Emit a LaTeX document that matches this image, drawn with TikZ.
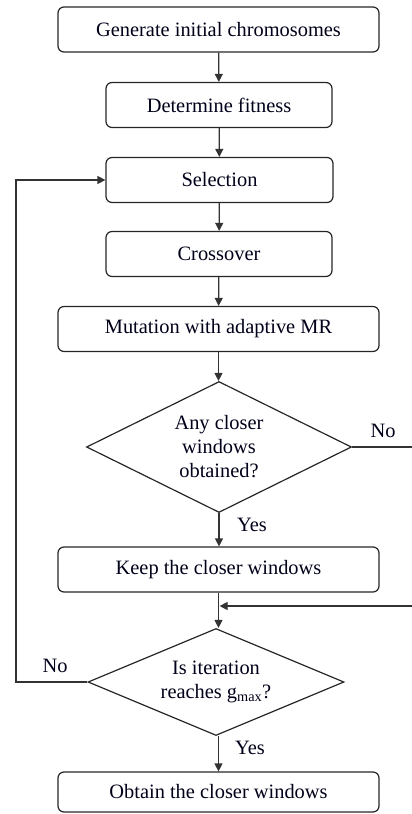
\documentclass[tikz,border=0pt]{standalone}
\usepackage{fontspec}
\setmainfont{Liberation Serif}
\usetikzlibrary{shapes.geometric,arrows.meta}
\begin{document}
\begin{tikzpicture}[x=1pt,y=-1pt,
  every node/.style={font=\fontsize{20.4}{24}\selectfont, text=black!90!blue},
  procbox/.style={draw=black!85, line width=1.2pt, rounded corners=6pt, minimum height=45pt, inner sep=0pt, anchor=center},
  decision/.style={draw=black!85, line width=1.2pt, diamond, inner sep=0pt, align=center},
  flow/.style={draw=black!80, line width=1.2pt, -{Triangle[length=8pt,width=8pt]}},
  lbl/.style={inner sep=0pt}
]
\useasboundingbox (0,0) rectangle (412,814);
\node[procbox, minimum width=321pt] (b1) at (218.5,29.5) {Generate initial chromosomes};
\node[procbox, minimum width=226pt] (b2) at (219,105) {Determine fitness};
\node[procbox, minimum width=227pt] (b3) at (219.5,180) {Selection};
\node[procbox, minimum width=226pt] (b4) at (219,254) {Crossover};
\node[procbox, minimum width=321pt] (b5) at (218.5,329) {Mutation with adaptive MR};
\node[decision, aspect=2, minimum width=265pt, minimum height=131pt] (d1) at (219,447) {Any closer\\windows\\obtained?};
\node[procbox, minimum width=321pt] (b6) at (218.5,569.5) {Keep the closer windows};
\node[decision, aspect=2.4, minimum width=256pt, minimum height=107pt] (d2) at (216,682) {Is iteration\\reaches g\textsubscript{max}?};
\node[procbox, minimum width=321pt, minimum height=40pt] (b7) at (218.5,792) {Obtain the closer windows};

\draw[flow] (b1) -- (b2);
\draw[flow] (b2) -- (b3);
\draw[flow] (b3) -- (b4);
\draw[flow] (b4) -- (b5);
\draw[flow] (b5.south) -- (b5.south |- d1.north);
\draw[flow] (d1.south) -- (d1.south |- b6.north);
\coordinate (join) at (219.6,606);
\coordinate (rc) at (416,0);
\coordinate (lc) at (16,0);
\draw[flow] (b6.south) -- (b6.south |- d2.north);
\draw[flow] (d1.east) -- (d1.east -| rc) |- (join);
\draw[flow] (d2.west) -- (d2.west -| lc) |- (b3.west);
\draw[flow] (d2.south -| b7.north) -- (b7.north);

\node[lbl] (no1) at (383,431) {No};
\node[lbl] (yes1) at (252,525) {Yes};
\node[lbl] (no2) at (55,666) {No};
\node[lbl] (yes2) at (250,748) {Yes};
\end{tikzpicture}
\end{document}
